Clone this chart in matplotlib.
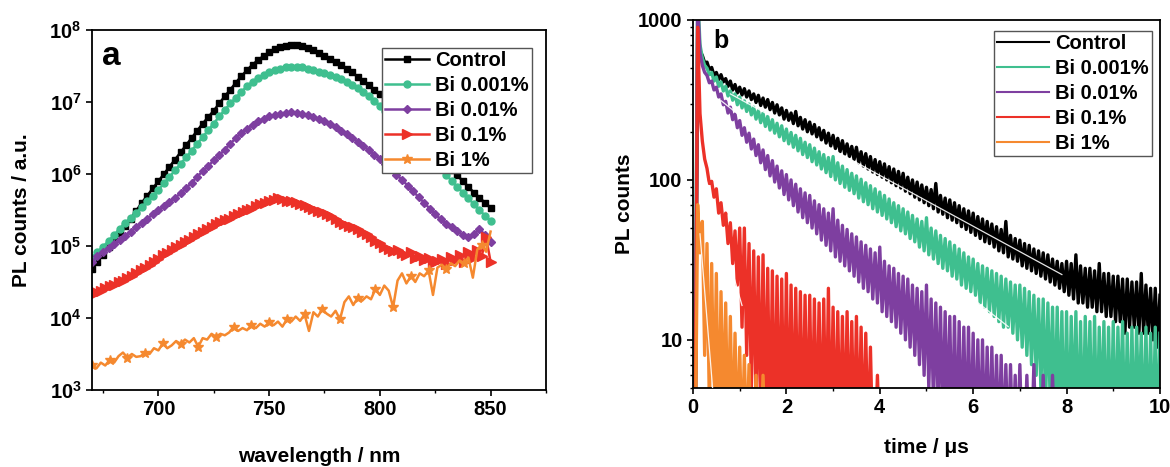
"""Steady-state PL spectra (a) and TRPL decays (b) for Bi-doped films."""

import matplotlib

matplotlib.use("Agg")
import matplotlib.pyplot as plt
import numpy as np
from matplotlib.ticker import LogLocator, MultipleLocator, NullFormatter, NullLocator

plt.rcParams["font.family"] = ["Liberation Sans", "DejaVu Sans"]
plt.rcParams["font.weight"] = "bold"
plt.rcParams["axes.labelweight"] = "bold"
plt.rcParams["mathtext.fontset"] = "custom"
plt.rcParams["mathtext.rm"] = "Liberation Sans"
plt.rcParams["mathtext.bf"] = "Liberation Sans:bold"

LABELS = ["Control", "Bi 0.001%", "Bi 0.01%", "Bi 0.1%", "Bi 1%"]
COLORS = ["black", "#3FBF8F", "#7E3FA0", "#EC3128", "#F5892F"]

# ---- panel a: PL spectra, values are log10(counts) ----
wl_coarse = np.arange(670, 850.1, 2.5)
wl_fine = np.arange(670, 850.1, 2.0)

control_log = [
    4.68, 4.78, 4.88, 4.98, 5.08, 5.18, 5.28, 5.38, 5.49, 5.60,
    5.70, 5.80, 5.90, 6.00, 6.10, 6.20, 6.30, 6.40, 6.50, 6.60,
    6.70, 6.79, 6.88, 6.98, 7.08, 7.17, 7.27, 7.36, 7.44, 7.52,
    7.58, 7.64, 7.69, 7.73, 7.76, 7.78, 7.79, 7.79, 7.78, 7.75,
    7.72, 7.68, 7.64, 7.60, 7.56, 7.51, 7.46, 7.41, 7.35, 7.29,
    7.23, 7.17, 7.11, 7.03, 6.95, 6.86, 6.78, 6.70, 6.62, 6.53,
    6.45, 6.37, 6.29, 6.21, 6.14, 6.06, 5.98, 5.90, 5.82, 5.74,
    5.67, 5.60, 5.53,
]
bi0001_log = [
    4.84, 4.92, 4.99, 5.07, 5.15, 5.24, 5.32, 5.39, 5.46, 5.54,
    5.62, 5.70, 5.78, 5.87, 5.96, 6.05, 6.14, 6.23, 6.32, 6.42,
    6.51, 6.61, 6.70, 6.80, 6.89, 6.98, 7.06, 7.14, 7.22, 7.28,
    7.33, 7.37, 7.41, 7.44, 7.46, 7.48, 7.49, 7.49, 7.48, 7.46,
    7.44, 7.42, 7.40, 7.38, 7.35, 7.32, 7.28, 7.24, 7.19, 7.14,
    7.09, 7.02, 6.95, 6.88, 6.80, 6.72, 6.64, 6.56, 6.48, 6.40,
    6.32, 6.24, 6.16, 6.08, 5.99, 5.90, 5.82, 5.74, 5.66, 5.58,
    5.50, 5.42, 5.35,
]
bi001_log = [
    4.78, 4.86, 4.92, 4.97, 5.03, 5.08, 5.14, 5.20, 5.26, 5.32,
    5.38, 5.44, 5.50, 5.55, 5.61, 5.67, 5.73, 5.80, 5.88, 5.96,
    6.04, 6.11, 6.19, 6.26, 6.34, 6.42, 6.50, 6.57, 6.63, 6.68,
    6.73, 6.77, 6.80, 6.82, 6.84, 6.85, 6.86, 6.85, 6.84, 6.82,
    6.79, 6.76, 6.73, 6.69, 6.65, 6.60, 6.55, 6.50, 6.45, 6.39,
    6.33, 6.27, 6.21, 6.14, 6.07, 5.99, 5.92, 5.84, 5.76, 5.68,
    5.60, 5.52, 5.44, 5.37, 5.31, 5.26, 5.21, 5.15, 5.12, 5.16,
    5.24, 5.15, 5.06,
]
bi01_log = [
    4.32, 4.36, 4.37, 4.41, 4.44, 4.46, 4.50, 4.52, 4.56, 4.59,
    4.62, 4.66, 4.70, 4.74, 4.78, 4.82, 4.87, 4.90, 4.94, 4.98,
    5.01, 5.05, 5.09, 5.13, 5.17, 5.20, 5.23, 5.27, 5.30, 5.33,
    5.36, 5.38, 5.41, 5.44, 5.47, 5.50, 5.52, 5.55, 5.58, 5.60,
    5.62, 5.64, 5.66, 5.65, 5.63, 5.62, 5.61, 5.58, 5.57, 5.54,
    5.52, 5.49, 5.47, 5.44, 5.41, 5.38, 5.34, 5.31, 5.28, 5.26,
    5.23, 5.20, 5.16, 5.12, 5.07, 5.04, 4.99, 4.96, 4.93, 4.95,
    4.90, 4.88, 4.92, 4.84, 4.86, 4.80, 4.83, 4.76, 4.79, 4.82,
    4.75, 4.85, 4.80, 4.88, 4.78, 4.92, 4.84, 4.95, 4.86, 5.12,
    4.78,
]
bi1_log = [
    3.35, 3.30, 3.38, 3.34, 3.42, 3.38, 3.47, 3.52, 3.45, 3.50,
    3.46, 3.47, 3.52, 3.50, 3.58, 3.55, 3.65, 3.58, 3.62, 3.68,
    3.64, 3.70, 3.66, 3.72, 3.60, 3.72, 3.70, 3.78, 3.74, 3.78,
    3.76, 3.80, 3.88, 3.82, 3.86, 3.83, 3.90, 3.86, 3.92, 3.88,
    3.94, 3.90, 3.95, 3.88, 3.98, 3.95, 4.02, 3.96, 4.05, 3.82,
    4.08, 4.02, 4.12, 4.06, 4.02, 4.10, 3.98, 4.22, 4.30, 4.18,
    4.28, 4.24, 4.30, 4.26, 4.40, 4.32, 4.45, 4.38, 4.15, 4.52,
    4.62, 4.48, 4.58, 4.50, 4.62, 4.58, 4.66, 4.32, 4.70, 4.74,
    4.68, 4.76, 4.72, 4.80, 4.76, 4.84, 4.56, 4.95, 5.02, 4.92,
    5.20,
]

# ---- panel b: TRPL counts, 0.05 us bins starting at t = 0 ----
time_step = 0.05

control_trpl = [
    1, 2, 950, 640, 600, 540, 545, 490, 505, 450,
    470, 425, 455, 410, 430, 385, 415, 365, 395, 350,
    380, 340, 372, 330, 360, 318, 345, 305, 338, 292,
    325, 285, 318, 275, 305, 262, 295, 255, 282, 240,
    272, 236, 262, 225, 268, 218, 246, 208, 238, 200,
    230, 194, 222, 186, 212, 178, 204, 170, 196, 163,
    190, 157, 182, 150, 176, 145, 168, 140, 162, 134,
    160, 128, 150, 122, 146, 117, 140, 112, 134, 108,
    130, 104, 126, 100, 121, 96, 117, 92, 113, 89,
    110, 85, 104, 82, 100, 78, 97, 75, 93, 72,
    90, 69, 87, 66, 95, 63, 80, 61, 77, 58,
    75, 56, 72, 54, 69, 51, 66, 49, 64, 47,
    62, 45, 59, 43, 57, 41, 55, 40, 53, 38,
    51, 36, 49, 35, 55, 33, 45, 32, 43, 31,
    42, 29, 40, 28, 39, 27, 37, 26, 36, 25,
    35, 24, 34, 23, 32, 22, 31, 21, 30, 20,
    31, 19, 30, 18, 34, 17, 29, 17, 28, 16,
    28, 16, 27, 15, 30, 15, 26, 14, 26, 14,
    25, 13, 25, 13, 24, 11, 24, 12, 23, 12,
    23, 11, 26, 11, 22, 11, 21, 10, 21, 9,
    19,
]
bi0001_trpl = [
    3, 14, 1500, 700, 580, 520, 500, 455, 470, 415,
    440, 385, 410, 360, 385, 335, 360, 315, 345, 295,
    330, 282, 312, 268, 298, 255, 285, 240, 272, 228,
    262, 216, 250, 205, 238, 196, 226, 186, 218, 176,
    208, 168, 198, 160, 190, 152, 182, 144, 172, 138,
    166, 130, 158, 124, 150, 117, 144, 111, 138, 105,
    140, 100, 128, 95, 122, 90, 116, 86, 110, 82,
    106, 77, 101, 73, 96, 70, 92, 66, 88, 63,
    84, 60, 80, 57, 76, 54, 72, 51, 69, 48,
    66, 46, 63, 43, 60, 41, 57, 38, 55, 36,
    58, 34, 50, 32, 48, 30, 45, 28, 43, 27,
    41, 25, 39, 24, 37, 22, 35, 21, 33, 20,
    32, 19, 30, 17, 29, 16, 28, 15, 27, 14,
    26, 13, 25, 12, 24, 12, 23, 11, 22, 10,
    22, 9, 21, 8, 20, 7, 19, 6, 18, 5,
    18, 4, 17, 4, 16, 3, 16, 3, 15, 2,
    15, 2, 14, 3, 15, 2, 13, 2, 14, 3,
    13, 2, 14, 2, 12, 3, 13, 2, 12, 2,
    13, 2, 12, 3, 13, 2, 11, 2, 12, 2,
    12, 3, 11, 2, 12, 2, 11, 2, 12, 2,
    11,
]
bi001_trpl = [
    1, 6, 1300, 620, 520, 470, 450, 405, 415, 365,
    380, 330, 345, 295, 310, 262, 285, 238, 258, 212,
    235, 190, 212, 172, 196, 156, 180, 142, 166, 128,
    154, 116, 142, 106, 132, 97, 122, 89, 114, 81,
    108, 75, 100, 69, 94, 63, 88, 58, 83, 54,
    80, 50, 74, 46, 70, 42, 66, 39, 62, 36,
    66, 33, 56, 31, 52, 29, 49, 27, 46, 25,
    44, 23, 41, 21, 39, 20, 37, 18, 35, 17,
    38, 15, 31, 14, 29, 13, 28, 12, 26, 11,
    25, 10, 24, 9, 22, 8, 21, 7, 20, 6,
    22, 5, 18, 4, 17, 4, 16, 3, 15, 3,
    14, 2, 14, 2, 13, 2, 12, 2, 12, 2,
    11, 2, 10, 2, 10, 2, 9, 2, 9, 2,
    8, 2, 8, 2, 7, 2, 7, 2, 6, 2,
    7, 2, 2, 6, 2, 2, 7, 2, 2, 2,
    6, 2, 2, 2, 6, 2, 2, 2, 2, 2,
]
bi01_trpl = [
    1, 3, 900, 260, 175, 135, 118, 95, 98, 78,
    88, 62, 72, 52, 62, 40, 54, 30, 48, 22,
    50, 12, 50, 8, 40, 5, 36, 4, 33, 3,
    34, 3, 28, 2, 27, 2, 25, 2, 24, 2,
    26, 2, 22, 2, 21, 2, 20, 2, 19, 2,
    19, 2, 18, 2, 17, 2, 18, 2, 21, 2,
    16, 2, 15, 2, 14, 2, 15, 2, 13, 2,
    14, 2, 12, 2, 11, 2, 9, 2, 2, 6,
    2,
]
bi1_trpl = [
    1, 2, 70, 35, 55, 8, 40, 4, 30, 3,
    26, 2, 20, 3, 17, 2, 14, 2, 11, 2,
    9, 2, 8, 2, 7, 2, 2, 6, 2, 2,
    6, 2,
]

# single-exponential fits (start/end points, drawn in white)
fit_times = [[0.8, 7.9], [0.6, 6.75], [0.77, 4.27], [0.16, 1.05], [0.15, 0.42]]
fit_counts = [[345, 25.6], [313, 12.1], [208, 9.4], [132, 16.4], [46, 5]]


def style_axes(ax):
    for spine in ax.spines.values():
        spine.set_linewidth(1.3)
    ax.tick_params(which="major", direction="out", length=4.5, width=1.2,
                   labelsize=14.5, pad=3, top=False, right=False)
    ax.tick_params(which="minor", direction="out", length=2.5, width=1.0,
                   top=False, right=False)


def add_legend(ax, anchor, handlelength):
    leg = ax.legend(loc="upper right", bbox_to_anchor=anchor, frameon=True,
                    fancybox=False, edgecolor="#555555", framealpha=1,
                    handlelength=handlelength, handletextpad=0.3, borderpad=0.15,
                    borderaxespad=0, labelspacing=0.3,
                    prop={"weight": "bold", "size": 14.5})
    leg.get_frame().set_linewidth(1.0)
    return leg


def plot_spectra(ax):
    coarse = [control_log, bi0001_log, bi001_log]
    markers = ["s", "o", "D"]
    sizes = [4.5, 5.0, 4.5]
    for vals, color, label, mk, ms in zip(coarse, COLORS[:3], LABELS[:3], markers, sizes):
        ax.plot(wl_coarse, np.power(10.0, vals), color=color, marker=mk, ms=ms,
                lw=1.8, label=label)
    ax.plot(wl_fine, np.power(10.0, bi01_log), color=COLORS[3], marker=">", ms=7,
            lw=1.8, label=LABELS[3])
    ax.plot(wl_fine, np.power(10.0, bi1_log), color=COLORS[4], marker="*", ms=7,
            markevery=4, lw=1.8, label=LABELS[4])

    ax.set_yscale("log")
    ax.set_xlim(670, 875)
    ax.set_ylim(1e3, 1e8)
    ax.set_xticks([700, 750, 800, 850])
    ax.xaxis.set_minor_locator(MultipleLocator(25))
    decades = [3, 4, 5, 6, 7, 8]
    ax.set_yticks([10.0 ** d for d in decades])
    ax.set_yticklabels([rf"$\mathbf{{10^{{{d}}}}}$" for d in decades])
    ax.yaxis.set_minor_locator(NullLocator())
    style_axes(ax)

    ax.set_xlabel("wavelength / nm", fontsize=15, labelpad=20)
    ax.set_ylabel("PL counts / a.u.", fontsize=15, labelpad=13)
    ax.text(0.022, 0.903, "a", transform=ax.transAxes, fontsize=24,
            fontweight="bold", va="baseline")
    add_legend(ax, (0.969, 0.95), 2.2)


def plot_decays(ax):
    series = [control_trpl, bi0001_trpl, bi001_trpl, bi01_trpl, bi1_trpl]
    for vals, color, label in zip(series, COLORS, LABELS):
        t = np.arange(len(vals)) * time_step
        ax.plot(t, vals, color=color, lw=2.4, label=label)
    for ft, fc in zip(fit_times, fit_counts):
        ax.plot(ft, fc, color="white", lw=0.9, alpha=0.9, zorder=5)

    ax.set_yscale("log")
    ax.set_xlim(0, 10)
    ax.set_ylim(5, 1000)
    ax.set_xticks([0, 2, 4, 6, 8, 10])
    ax.xaxis.set_minor_locator(MultipleLocator(1))
    ax.set_yticks([10, 100, 1000])
    ax.set_yticklabels(["10", "100", "1000"])
    ax.yaxis.set_minor_locator(LogLocator(base=10, subs=range(2, 10)))
    ax.yaxis.set_minor_formatter(NullFormatter())
    style_axes(ax)

    ax.set_xlabel("time / \u03bcs", fontsize=15, labelpad=15)
    ax.set_ylabel("PL counts", fontsize=15, labelpad=3)
    ax.text(0.043, 0.924, "b", transform=ax.transAxes, fontsize=18,
            fontweight="bold", va="baseline")
    leg = add_legend(ax, (0.983, 0.970), 2.6)
    for line in leg.get_lines():
        line.set_linewidth(1.5)


def main() -> None:
    fig = plt.figure(figsize=(11.7, 4.67), dpi=100)
    ax_a = fig.add_axes([0.0786, 0.1649, 0.3880, 0.7709])
    ax_b = fig.add_axes([0.5923, 0.1692, 0.3991, 0.7880])
    plot_spectra(ax_a)
    plot_decays(ax_b)
    fig.savefig("out.png", dpi=100)


if __name__ == "__main__":
    main()
